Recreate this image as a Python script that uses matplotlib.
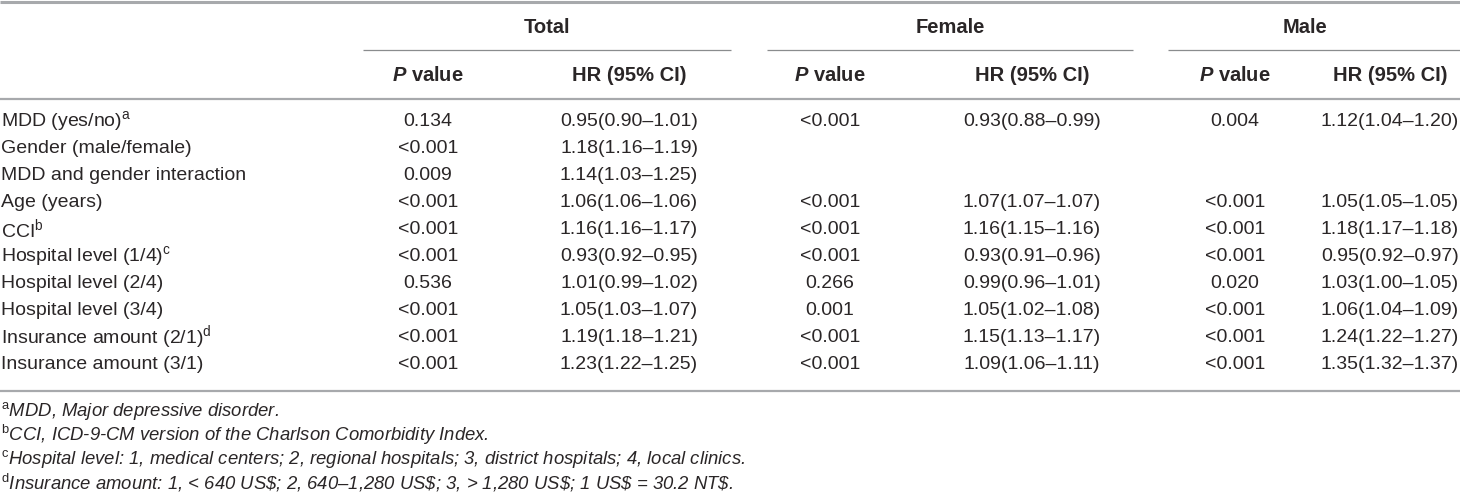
import matplotlib
matplotlib.use("Agg")
import matplotlib.pyplot as plt

plt.rcParams['font.family'] = ['Liberation Sans', 'DejaVu Sans']
plt.rcParams['mathtext.fontset'] = 'custom'
plt.rcParams['mathtext.rm'] = 'Liberation Sans'
plt.rcParams['mathtext.it'] = 'Liberation Sans:italic'
plt.rcParams['mathtext.sf'] = 'Liberation Sans:italic:bold'

# ---------------- data ----------------
groups = ["Total", "Female", "Male"]
col_headers = [r"$\mathsf{P}$ value", "HR (95% CI)"]

row_labels = [
    r"MDD (yes/no)$^{\mathrm{a}}$",
    "Gender (male/female)",
    "MDD and gender interaction",
    "Age (years)",
    r"CCI$^{\mathrm{b}}$",
    r"Hospital level (1/4)$^{\mathrm{c}}$",
    "Hospital level (2/4)",
    "Hospital level (3/4)",
    r"Insurance amount (2/1)$^{\mathrm{d}}$",
    "Insurance amount (3/1)",
]

total_p = ["0.134", "<0.001", "0.009", "<0.001", "<0.001", "<0.001", "0.536", "<0.001", "<0.001", "<0.001"]
total_hr = ["0.95(0.90–1.01)", "1.18(1.16–1.19)", "1.14(1.03–1.25)", "1.06(1.06–1.06)", "1.16(1.16–1.17)",
            "0.93(0.92–0.95)", "1.01(0.99–1.02)", "1.05(1.03–1.07)", "1.19(1.18–1.21)", "1.23(1.22–1.25)"]
female_p = ["<0.001", "", "", "<0.001", "<0.001", "<0.001", "0.266", "0.001", "<0.001", "<0.001"]
female_hr = ["0.93(0.88–0.99)", "", "", "1.07(1.07–1.07)", "1.16(1.15–1.16)",
             "0.93(0.91–0.96)", "0.99(0.96–1.01)", "1.05(1.02–1.08)", "1.15(1.13–1.17)", "1.09(1.06–1.11)"]
male_p = ["0.004", "", "", "<0.001", "<0.001", "<0.001", "0.020", "<0.001", "<0.001", "<0.001"]
male_hr = ["1.12(1.04–1.20)", "", "", "1.05(1.05–1.05)", "1.18(1.17–1.18)",
           "0.95(0.92–0.97)", "1.03(1.00–1.05)", "1.06(1.04–1.09)", "1.24(1.22–1.27)", "1.35(1.32–1.37)"]

footnotes = [
    r"$^{\mathrm{a}}$MDD, Major depressive disorder.",
    r"$^{\mathrm{b}}$CCI, ICD-9-CM version of the Charlson Comorbidity Index.",
    r"$^{\mathrm{c}}$Hospital level: 1, medical centers; 2, regional hospitals; 3, district hospitals; 4, local clinics.",
    r"$^{\mathrm{d}}$Insurance amount: 1, < 640 US\$; 2, 640–1,280 US\$; 3, > 1,280 US\$; 1 US\$ = 30.2 NT\$.",
]

# ---------------- layout ----------------
W, H = 1460, 498
fig = plt.figure(figsize=(W / 100, H / 100), dpi=100)
ax = fig.add_axes([0, 0, 1, 1])
ax.set_xlim(0, W)
ax.set_ylim(H, 0)
ax.axis("off")

TXT = "#2a2627"
LINE = "#a7a9ac"
FS = 14
FS_HEAD = 14.5
FS_FOOT = 13.3

group_centers = [547, 950, 1305]
group_spans = [(363, 731), (767, 1133), (1168, 1460)]
col_centers = [(428, 629), (830, 1032), (1235, 1390)]
group_y, sub_y = 27, 75
row_y0, row_dy = 121, 27
foot_y0, foot_dy = 411, 24

# rules
ax.plot([0, W], [1.5, 1.5], color=LINE, lw=2.2, solid_capstyle="butt")
ax.plot([0, W], [99, 99], color=LINE, lw=1.6, solid_capstyle="butt")
ax.plot([0, W], [391, 391], color=LINE, lw=1.6, solid_capstyle="butt")
for x0, x1 in group_spans:
    ax.plot([x0, x1], [50, 50], color="#8a8c8e", lw=0.9, solid_capstyle="butt")

# headers
for g, xc in zip(groups, group_centers):
    ax.text(xc, group_y, g, ha="center", va="center", fontsize=FS_HEAD, fontweight="bold", color=TXT)
for cp, ch in col_centers:
    ax.text(cp, sub_y, col_headers[0], ha="center", va="center", fontsize=FS_HEAD, fontweight="bold", color=TXT)
    ax.text(ch, sub_y, col_headers[1], ha="center", va="center", fontsize=FS_HEAD, fontweight="bold", color=TXT)

# body
cols = [(total_p, total_hr), (female_p, female_hr), (male_p, male_hr)]
for i, lab in enumerate(row_labels):
    y = row_y0 + i * row_dy
    ax.text(1, y, lab, ha="left", va="center", fontsize=FS, color=TXT)
    for (pvals, hrs), (cp, ch) in zip(cols, col_centers):
        if pvals[i]:
            ax.text(cp, y, pvals[i], ha="center", va="center", fontsize=FS, color=TXT)
        if hrs[i]:
            ax.text(ch, y, hrs[i], ha="center", va="center", fontsize=FS, color=TXT)

for i, f in enumerate(footnotes):
    ax.text(1, foot_y0 + i * foot_dy, f, ha="left", va="center", fontsize=FS_FOOT,
            style="italic", color=TXT)

fig.savefig("out.png", dpi=100)
